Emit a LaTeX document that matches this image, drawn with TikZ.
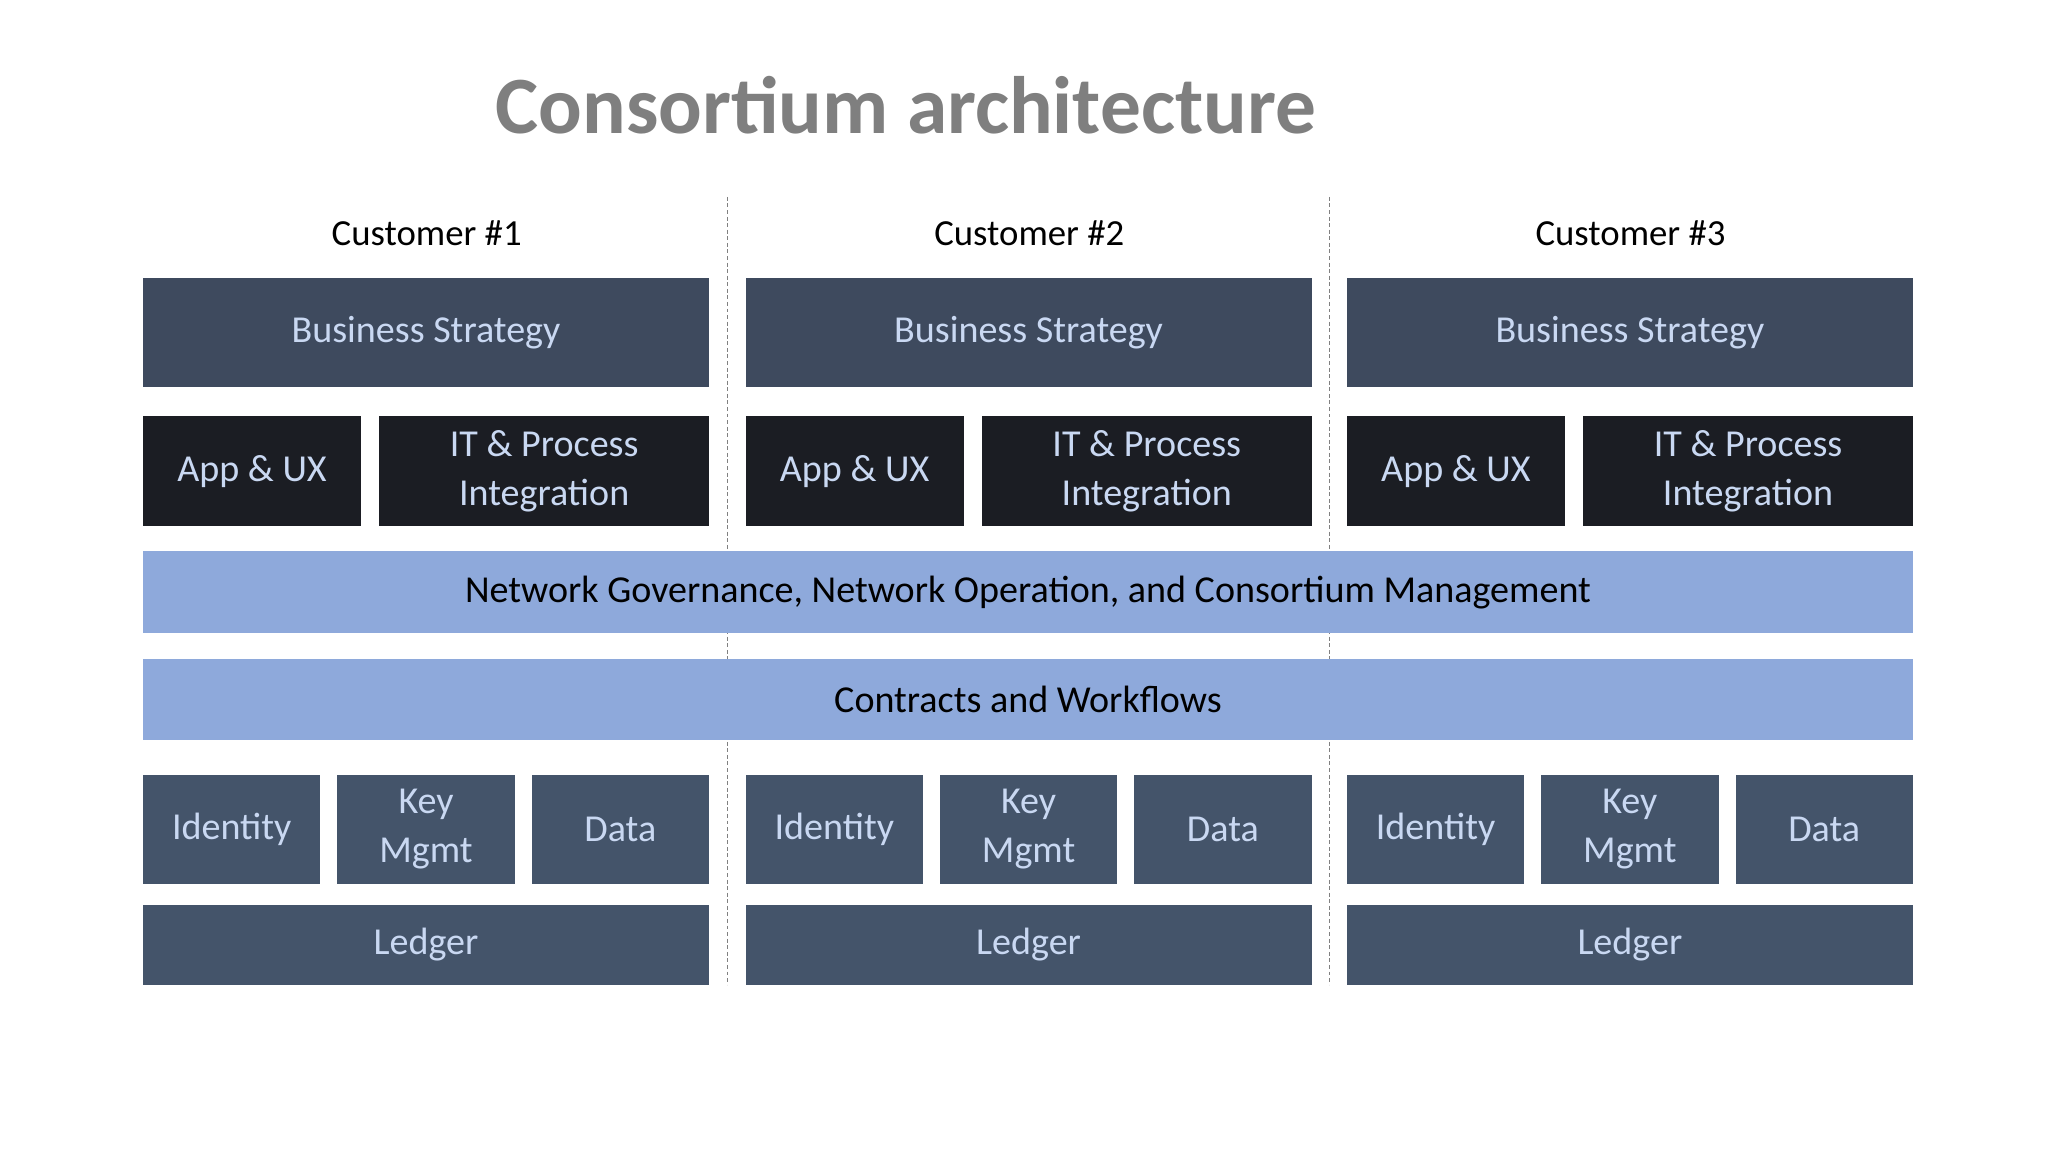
\documentclass[tikz,border=0pt]{standalone}
\usepackage{fontspec}
\setmainfont{Carlito}
\definecolor{bs}{HTML}{3E4A5E}
\definecolor{dk}{HTML}{1B1D23}
\definecolor{md}{HTML}{44546A}
\definecolor{band}{HTML}{8EA9DB}
\definecolor{lt}{HTML}{C9D8F2}
\definecolor{ttl}{HTML}{7F7F7F}
\begin{document}
\begin{tikzpicture}[x=1pt,y=-1pt,
  box/.style={draw=none,inner sep=0pt,align=center,font=\fontsize{29}{38}\selectfont,text=lt},
  bsb/.style={box,fill=bs},
  dkb/.style={box,fill=dk},
  mdb/.style={box,fill=md},
  bandb/.style={box,fill=band,text=black,font=\fontsize{29}{36}\selectfont},
  cust/.style={font=\fontsize{28}{34}\selectfont,text=black},
  sep/.style={densely dashed,gray,line width=0.8pt}]
\useasboundingbox (0,0) rectangle (1560,878);
\draw[sep] (554,150) -- (554,750);
\draw[sep] (1013,150) -- (1013,750);
\node[font=\bfseries\fontsize{62}{70}\selectfont,text=ttl] (title) at (690,80) {Consortium architecture};
\foreach \i/\a in {1/109,2/568,3/1026}{
  \node[cust] (c\i) at (\a+216,178) {Customer \#\i};
  \path[bsb] (\a,212) rectangle node (bs\i) {Business Strategy} (\a+431,295);
  \path[dkb] (\a,317) rectangle node (app\i) {App \& UX} (\a+166,401);
  \path[dkb] (\a+180,317) rectangle node (it\i) {IT \& Process\\Integration} (\a+431,401);
  \path[mdb] (\a,590) rectangle node (id\i) {Identity} (\a+135,673);
  \path[mdb] (\a+148,590) rectangle node (key\i) {Key\\Mgmt} (\a+283,673);
  \path[mdb] (\a+296,590) rectangle node (data\i) {Data} (\a+431,673);
  \path[mdb] (\a,689) rectangle node (led\i) {Ledger} (\a+431,750);
}
\path[bandb] (109,420) rectangle node (net) {Network Governance, Network Operation, and Consortium Management} (1457,482);
\path[bandb] (109,502) rectangle node (con) {Contracts and Workflows} (1457,564);
\end{tikzpicture}
\end{document}
